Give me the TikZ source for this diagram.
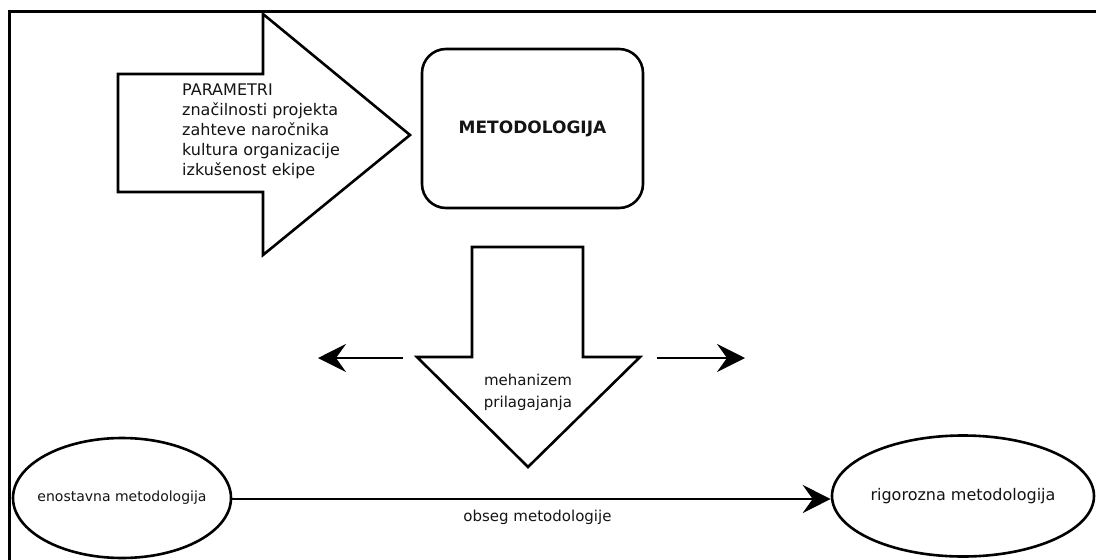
\documentclass[tikz,border=0pt]{standalone}
\usepackage{fontspec}
\setmainfont{DejaVu Sans}
\usetikzlibrary{arrows.meta,shapes.geometric}
\definecolor{ink}{HTML}{141414}
\begin{document}
\begin{tikzpicture}[x=1pt,y=-1pt,
  outline/.style={draw=black,line width=2.6pt,line join=miter},
  label/.style={text=ink,inner sep=0pt},
  bigtip/.style={-{Stealth[length=28pt,width=28pt,inset=10pt]},line width=2.6pt},
  oval/.style={ellipse,draw=black,line width=2.6pt,inner sep=0pt}]
% white sheet
\fill[white] (0,0) rectangle (1096,560);
\useasboundingbox (0,0) rectangle (1096,560);
% page frame, open towards the right and bottom
\draw[line width=3pt] (9,560) -- (9,11) -- (1096,11);

% block arrow carrying the parameters
\draw[outline] (118,74) -- (263,74) -- (263,14) -- (410,135) -- (263,255)
  -- (263,192) -- (118,192) -- cycle;
\node[label,anchor=north west,align=left,font=\fontsize{16}{20}\selectfont]
  (params) at (182,84)
  {PARAMETRI\\zna\v{c}ilnosti projekta\\zahteve naro\v{c}nika\\kultura organizacije\\izku\v{s}enost ekipe};

% methodology box
\node[draw=black,line width=2.6pt,rounded corners=24pt,minimum width=221pt,
  minimum height=159pt,font=\fontsize{17}{20}\selectfont\bfseries,text=ink]
  (meth) at (532.5,128.5) {METODOLOGIJA};

% downward block arrow: adaptation mechanism
\draw[outline] (472,247) -- (583,247) -- (583,357) -- (640,357) -- (528,467)
  -- (417,357) -- (472,357) -- cycle;
\node[label,align=center,font=\fontsize{15}{22}\selectfont]
  (mech) at (528,392) {mehanizem\\prilagajanja};

% sideways arrows next to the mechanism
\coordinate (lstart) at (403,358);
\coordinate (lend) at (318,358);
\coordinate (rstart) at (657,358);
\coordinate (rend) at (745,358);
\draw[bigtip] (lstart) -- (lend);
\draw[bigtip] (rstart) -- (rend);

% scale of methodologies
\node[oval,minimum width=218pt,minimum height=120pt] (simple) at (122,498) {};
\node[label,font=\fontsize{14}{17}\selectfont] (simpletext) at (simple.center)
  {enostavna metodologija};
\node[oval,minimum width=262pt,minimum height=121pt] (rigor) at (963,496) {};
\node[label,font=\fontsize{16}{19}\selectfont] (rigortext) at (rigor.center)
  {rigorozna metodologija};
\draw[bigtip] (simple.east |- 0,499) -- node[pos=0.51,below=10pt,label,
  font=\fontsize{15}{18}\selectfont] (scope) {obseg metodologije}
  (rigor.west |- 0,499);
\end{tikzpicture}
\end{document}
